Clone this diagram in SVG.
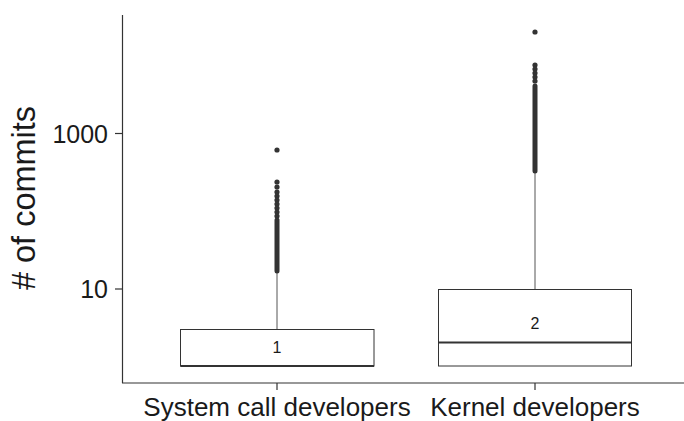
<svg xmlns="http://www.w3.org/2000/svg" width="684" height="421" viewBox="0 0 684 421">
<style>
  text { font-family: "Liberation Sans", Arial, Helvetica, sans-serif; fill: #1a1a1a; }
  .axis { stroke: #333; stroke-width: 1.2; fill: none; }
  .box { fill: #fff; stroke: #333; stroke-width: 1; }
  .median { stroke: #333; stroke-width: 2.2; }
  .whisker { stroke: #555; stroke-width: 1; }
  .dot { fill: #333; }
  .dense { stroke: #333; stroke-width: 5; stroke-linecap: round; }
  .tick { font-size: 25px; text-anchor: end; }
  .cat { font-size: 26px; text-anchor: middle; }
  .lbl { font-size: 16px; text-anchor: middle; }
</style>
<rect width="684" height="421" fill="#fff"/>
<g id="axes">
  <line class="axis" x1="122.5" y1="15" x2="122.5" y2="383"/>
  <line class="axis" x1="122" y1="383" x2="684" y2="383"/>
  <line class="axis" x1="115" y1="133.5" x2="122.5" y2="133.5"/>
  <line class="axis" x1="115" y1="289" x2="122.5" y2="289"/>
  <line class="axis" x1="277" y1="383" x2="277" y2="390"/>
  <line class="axis" x1="535" y1="383" x2="535" y2="390"/>
  <text class="tick" x="108" y="143">1000</text>
  <text class="tick" x="108" y="298">10</text>
  <text class="cat" x="277" y="416">System call developers</text>
  <text class="cat" x="535" y="416">Kernel developers</text>
  <text transform="translate(35,198) rotate(-90)" font-size="32.5" text-anchor="middle">#&#160;of commits</text>
</g>
<g id="box1">
  <line class="whisker" x1="277" y1="272" x2="277" y2="329.5"/>
  <line class="dense" x1="277" y1="220" x2="277" y2="271"/>
  <circle class="dot" cx="277" cy="150" r="2.6"/>
  <circle class="dot" cx="277" cy="182" r="2.6"/>
  <circle class="dot" cx="277" cy="187" r="2.6"/>
  <circle class="dot" cx="277" cy="192" r="2.6"/>
  <circle class="dot" cx="277" cy="196" r="2.6"/>
  <circle class="dot" cx="277" cy="200" r="2.6"/>
  <circle class="dot" cx="277" cy="204" r="2.6"/>
  <circle class="dot" cx="277" cy="208" r="2.6"/>
  <circle class="dot" cx="277" cy="212" r="2.6"/>
  <circle class="dot" cx="277" cy="216" r="2.6"/>
  <rect class="box" x="180.5" y="329.5" width="193.5" height="36.5"/>
  <line class="median" x1="180.5" y1="366" x2="374" y2="366"/>
  <text class="lbl" x="277" y="353">1</text>
</g>
<g id="box2">
  <line class="whisker" x1="535" y1="172" x2="535" y2="289.5"/>
  <line class="dense" x1="535" y1="86" x2="535" y2="171"/>
  <circle class="dot" cx="535" cy="32" r="2.6"/>
  <circle class="dot" cx="535" cy="65" r="2.6"/>
  <circle class="dot" cx="535" cy="69" r="2.6"/>
  <circle class="dot" cx="535" cy="73" r="2.6"/>
  <circle class="dot" cx="535" cy="77" r="2.6"/>
  <circle class="dot" cx="535" cy="81" r="2.6"/>
  <rect class="box" x="438.5" y="289.5" width="193" height="76.5"/>
  <line class="median" x1="438.5" y1="342.5" x2="631.5" y2="342.5"/>
  <text class="lbl" x="535" y="329">2</text>
</g>
</svg>
